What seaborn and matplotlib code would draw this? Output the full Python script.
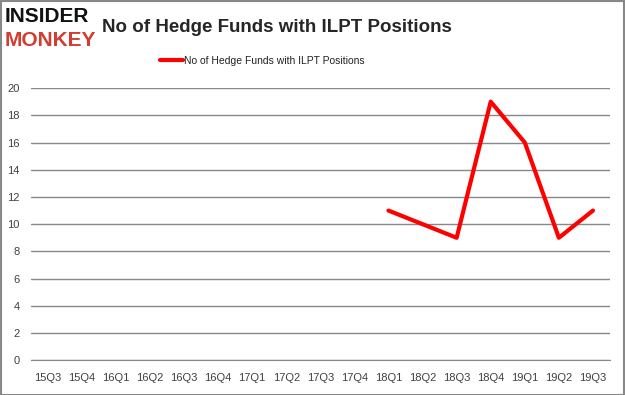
import numpy as np
import pandas as pd
import seaborn as sns
import matplotlib.pyplot as plt
from matplotlib.patches import Rectangle

sns.set_style('white')
plt.rcParams['font.family'] = ['Liberation Sans', 'DejaVu Sans']

quarters = ['15Q3', '15Q4', '16Q1', '16Q2', '16Q3', '16Q4', '17Q1', '17Q2', '17Q3',
            '17Q4', '18Q1', '18Q2', '18Q3', '18Q4', '19Q1', '19Q2', '19Q3']
funds = [np.nan, np.nan, np.nan, np.nan, np.nan, np.nan, np.nan, np.nan, np.nan,
         np.nan, 11, 10, 9, 19, 16, 9, 11]
label = 'No of Hedge Funds with ILPT Positions'

df = pd.DataFrame({'pos': np.arange(len(quarters)), 'funds': funds})

fig = plt.figure(figsize=(6.25, 3.95), dpi=100)
ax = fig.add_axes([0.049, 0.088, 0.927, 0.689])

sns.lineplot(data=df.dropna(), x='pos', y='funds', color='#ff0000', linewidth=3,
             label=label, ax=ax)

ax.set_xlim(-0.5, len(quarters) - 0.5)
ax.set_ylim(0, 20)
ax.set_yticks(range(0, 21, 2))
ax.set_xticks(np.arange(len(quarters)))
ax.set_xticklabels(quarters)
ax.set_xticks(np.arange(len(quarters) + 1) - 0.5, minor=True)
ax.tick_params(axis='x', which='major', length=0, pad=9, labelsize=8, colors='#404040')
ax.tick_params(axis='x', which='minor', length=4, color='#888888')
ax.tick_params(axis='y', length=0, labelsize=8, colors='#404040', pad=8)
ax.grid(axis='y', color='#888888', linewidth=1)
ax.set_axisbelow(True)
ax.set_xlabel('')
ax.set_ylabel('')
for s in ['top', 'right', 'left']:
    ax.spines[s].set_visible(False)
ax.spines['bottom'].set_color('#888888')

leg = ax.legend(loc='center', bbox_to_anchor=(0.42, 0.846),
                bbox_transform=fig.transFigure, frameon=False,
                fontsize=7.5, handlelength=2.2, handletextpad=0.1)
for t in leg.get_texts():
    t.set_color('#222222')

fig.text(0.163, 0.93, label, fontsize=13.5, fontweight='bold', va='center', ha='left')
fig.text(0.008, 0.957, 'INSIDER', fontsize=15, fontweight='heavy', color='#111111',
         va='center', ha='left')
fig.text(0.008, 0.898, 'MONKEY', fontsize=15, fontweight='heavy', color='#d33c2e',
         va='center', ha='left')

fig.patches.append(Rectangle((0.001, 0.001), 0.997, 0.997, transform=fig.transFigure,
                             fill=False, edgecolor='#888888', linewidth=1.5))

fig.savefig('out.png', dpi=100)
